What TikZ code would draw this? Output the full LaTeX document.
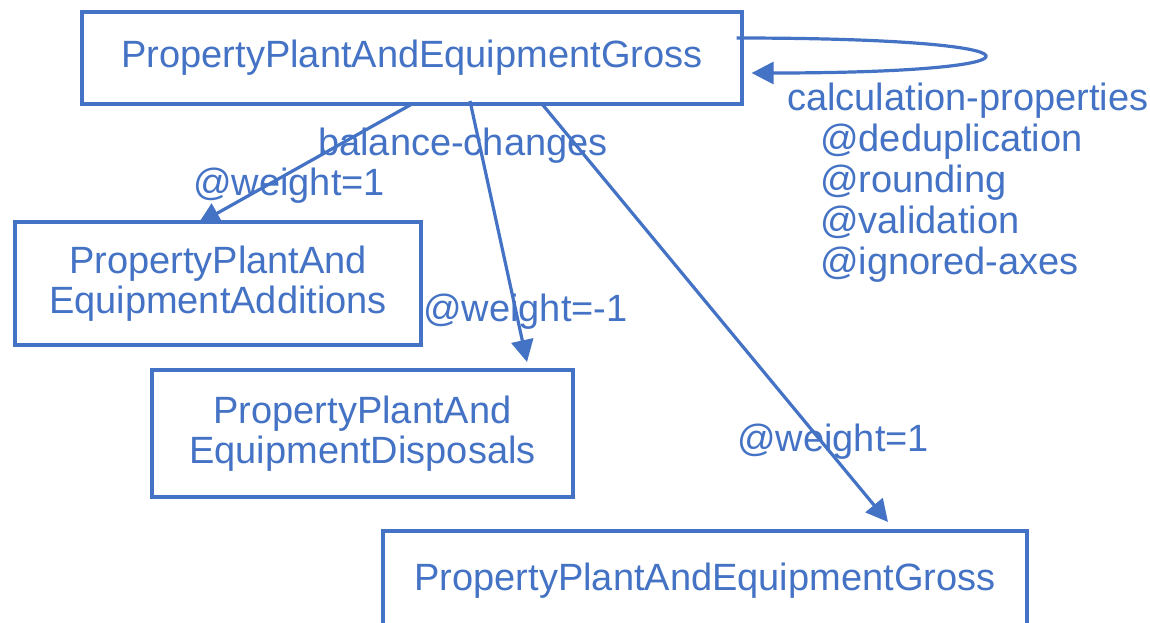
\documentclass[tikz,border=0pt]{standalone}
\usepackage{fontspec}
\setmainfont{Liberation Sans}
\usetikzlibrary{arrows.meta,calc}
\definecolor{ublue}{HTML}{4472C4}
\begin{document}
\begin{tikzpicture}[x=1pt,y=-1pt,
  txt/.style={font=\fontsize{38}{40}\selectfont},
  box/.style={txt, draw=ublue, line width=3.2pt, text=ublue, align=center, inner sep=0pt},
  lbl/.style={txt, text=ublue, inner sep=0pt, anchor=base west},
  conn/.style={draw=ublue, line width=3.2pt, -{Triangle[length=22pt,width=22pt]}}]
\useasboundingbox (0,0) rectangle (1150,622);
\clip (0,0) rectangle (1150,622);
\fill[white] (0,0) rectangle (1150,622);
% boxes
\node[box, minimum width=660pt, minimum height=92pt] (top) at (412,58) {PropertyPlantAndEquipmentGross};
\node[box, minimum width=406pt, minimum height=123pt] (add) at (218,283.5) {PropertyPlantAnd\\EquipmentAdditions};
\node[box, minimum width=421pt, minimum height=127pt] (disp) at (362.5,433.5) {PropertyPlantAnd\\EquipmentDisposals};
\node[box, minimum width=644pt, minimum height=100pt] (bot) at (705,581) {PropertyPlantAndEquipmentGross};
% connector ends
\coordinate (s1) at (412,104);
\coordinate (s2) at (470,101);
\coordinate (s3) at (542,104);
\coordinate (e1) at (198,224);
\coordinate (e2) at (527,362);
\coordinate (e3) at (888,522);
\coordinate (la) at ($(top.east)+(-7,-20)$);
\coordinate (lb) at ($(top.east)+(8,15)$);
% connectors
\draw[conn] (s1) -- (e1);
\draw[conn] (s2) -- (e2);
\draw[conn] (s3) -- (e3);
\draw[conn] (la) .. controls (1063,38) and (1063,73) .. (lb);
% labels
\node[lbl] (bc) at (318,155) {balance-changes};
\node[lbl] (w1) at (193,195) {@weight=1};
\node[lbl] (w2) at (423,321) {@weight=-1};
\node[lbl] (w3) at (737,451) {@weight=1};
\node[lbl] (cp) at (787,110) {calculation-properties};
\node[lbl] (cp1) at (820,151) {@deduplication};
\node[lbl] (cp2) at (820,192) {@rounding};
\node[lbl] (cp3) at (820,233) {@validation};
\node[lbl] (cp4) at (820,274) {@ignored-axes};
\end{tikzpicture}
\end{document}
